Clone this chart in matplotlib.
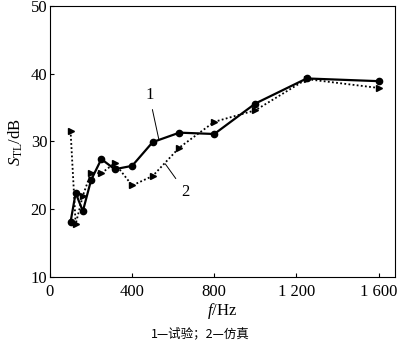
import matplotlib
matplotlib.use("Agg")
import matplotlib.pyplot as plt

freq1 = [100, 125, 160, 200, 250, 315, 400, 500, 630, 800, 1000, 1250, 1600]
stl_test = [18.1, 22.4, 19.7, 24.3, 27.4, 25.9, 26.4, 29.9, 31.3, 31.1, 35.6, 39.3, 38.9]
freq2 = [100, 125, 160, 200, 250, 315, 400, 500, 630, 800, 1000, 1250, 1600]
stl_sim = [31.6, 17.8, 22.0, 25.4, 25.3, 26.8, 23.5, 24.9, 29.1, 32.9, 34.6, 39.2, 37.9]
xticks = [0, 400, 800, 1200, 1600]
xtick_labels = ["0", "400", "800", "1 200", "1 600"]
yticks = [10, 20, 30, 40, 50]

plt.rcParams['font.family'] = ['Liberation Serif', 'DejaVu Serif']
plt.rcParams['mathtext.fontset'] = 'custom'
plt.rcParams['mathtext.rm'] = 'Liberation Serif'
plt.rcParams['mathtext.it'] = 'Liberation Serif:italic'

fig = plt.figure(figsize=(4.0, 3.51), dpi=100)
ax = fig.add_axes([0.125, 0.211, 0.8625, 0.772])

ax.plot(freq1, stl_test, color='black', lw=1.6, marker='o', ms=4.5, zorder=3)
ax.plot(freq2, stl_sim, color='black', lw=1.3, ls=(0, (1, 1.3)), marker='>', ms=4.5, zorder=2)

ax.set_xlim(0, 1680)
ax.set_ylim(10, 50)
ax.set_xticks(xticks)
ax.set_xticklabels(xtick_labels)
ax.set_yticks(yticks)
ax.tick_params(direction='in', length=3, width=0.8, labelsize=12, pad=2)
ax.tick_params(axis='x', pad=5)
for s in ax.spines.values():
    s.set_linewidth(0.8)

ax.set_xlabel(r'$f$/Hz', fontsize=12, labelpad=1)
ax.set_ylabel(r'$S_{\mathrm{TL}}$/dB', fontsize=12, labelpad=4)

ax.annotate('1', xy=(530, 30.3), xytext=(483, 36.9), fontsize=12,
            ha='center', va='center',
            arrowprops=dict(arrowstyle='-', color='black', lw=0.7, shrinkA=3, shrinkB=0))
ax.annotate('2', xy=(561, 26.7), xytext=(658, 22.6), fontsize=12,
            ha='center', va='center',
            arrowprops=dict(arrowstyle='-', color='black', lw=0.7, shrinkA=3, shrinkB=0))

fig.text(0.5, 0.048, '1—试验；2—仿真', ha='center', va='center', fontsize=9,
         family=['Noto Sans CJK SC', 'DejaVu Sans'])

fig.savefig('out.png', dpi=100)
